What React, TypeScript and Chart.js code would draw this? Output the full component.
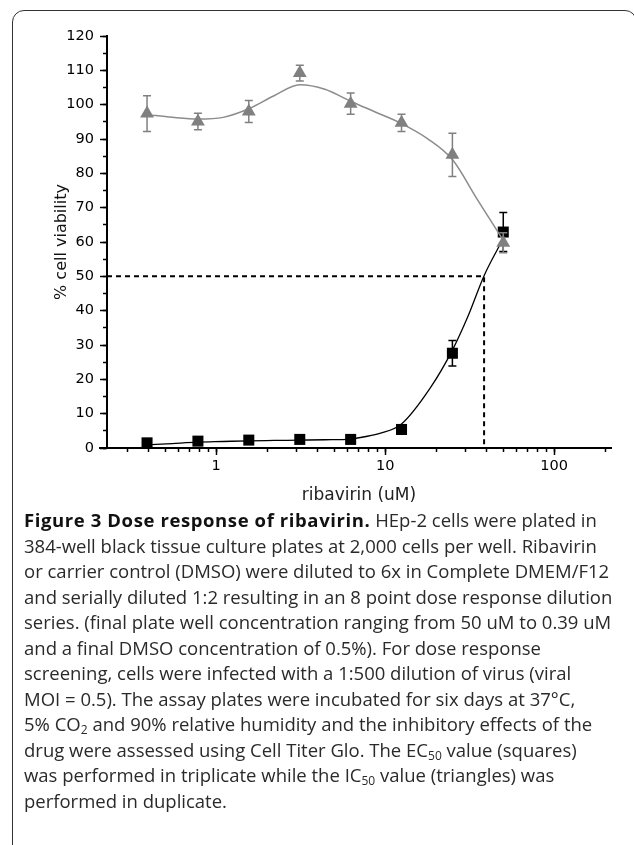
import React, { useEffect, useRef } from 'react';
import { Chart, registerables } from 'chart.js';

Chart.register(...registerables);

// ---- data ----
const concentrations = [0.39, 0.78, 1.56, 3.125, 6.25, 12.5, 25, 50];
const triangleValues = [97.4, 95.1, 98.0, 109.2, 100.3, 94.7, 85.4, 59.8];
const triangleErrors = [5.2, 2.4, 3.2, 2.3, 3.1, 2.5, 6.3, 2.9];
const squareValues = [1.5, 2.0, 2.3, 2.5, 2.5, 5.4, 27.6, 62.9];
const squareErrors = [0.3, 0.3, 0.3, 0.3, 0.3, 0.6, 3.7, 5.7];

const triangleFitX = [0.39, 0.55, 0.78, 1.1, 1.56, 2.2, 3.125, 4.4, 6.25, 8.8, 12.5, 17.7, 25, 35, 50];
const triangleFitY = [97.1, 96.3, 95.8, 96.3, 98.8, 102.6, 105.8, 104.5, 101.0, 97.8, 94.5, 90.2, 84.0, 72.5, 60.5];

const squareFitX = [0.39, 0.55, 0.78, 1.1, 1.56, 2.2, 3.125, 4.4, 6.25, 7.4, 9.4, 12.5, 18.5, 25, 31, 38.5, 50];
const squareFitY = [0.9, 1.3, 1.7, 1.9, 2.1, 2.2, 2.3, 2.4, 2.6, 3.2, 4.3, 7.0, 17.5, 28.5, 38.5, 50.2, 61.0];

const refLineX = [0.226, 38.5, 38.5];
const refLineY = [50, 50, 0];

const xMin = 0.226;
const xMax = 217;
const yMin = 0;
const yMax = 120;
const xTickValues = [0.3, 0.4, 0.5, 0.6, 0.7, 0.8, 0.9, 1, 2, 3, 4, 5, 6, 7, 8, 9, 10, 20, 30, 40, 50, 60, 70, 80, 90, 100, 200];
const xTickLabels = [1, 10, 100];
const yMinorStep = 5;
const yLabelStep = 10;

const yTitle = '% cell viability';
const xTitle = 'ribavirin (uM)';

const toPoints = (xs: number[], ys: number[]) => xs.map((x, i) => ({ x, y: ys[i] }));

const errorBarPlugin = {
  id: 'errorBars',
  beforeDatasetDraw(chart: any, args: any) {
    const ds = chart.data.datasets[args.index] as any;
    if (!ds.errors) return;
    const { ctx, scales } = chart;
    const xs = scales.x;
    const ys = scales.y;
    ctx.save();
    ctx.strokeStyle = ds.errorColor;
    ctx.lineWidth = 1.5;
    ds.data.forEach((p: any, i: number) => {
      const e = ds.errors[i];
      const px = xs.getPixelForValue(p.x);
      const top = ys.getPixelForValue(p.y + e);
      const bot = ys.getPixelForValue(p.y - e);
      const cap = 4;
      ctx.beginPath();
      ctx.moveTo(px, top);
      ctx.lineTo(px, bot);
      ctx.moveTo(px - cap, top);
      ctx.lineTo(px + cap, top);
      ctx.moveTo(px - cap, bot);
      ctx.lineTo(px + cap, bot);
      ctx.stroke();
    });
    ctx.restore();
  },
};

const axisExtendPlugin = {
  id: 'axisExtend',
  afterDraw(chart: any) {
    const { ctx, chartArea } = chart;
    ctx.save();
    ctx.strokeStyle = '#000';
    ctx.lineWidth = 2;
    ctx.beginPath();
    ctx.moveTo(chartArea.left - 8, chartArea.bottom);
    ctx.lineTo(chartArea.left, chartArea.bottom);
    ctx.stroke();
    ctx.restore();
  },
};

function DoseChart() {
  const ref = useRef<HTMLCanvasElement | null>(null);
  useEffect(() => {
    if (!ref.current) return;
    const tickFont = { family: "'DejaVu Sans', sans-serif", size: 14.5 };
    const chart = new Chart(ref.current, {
      type: 'scatter',
      data: {
        datasets: [
          {
            data: toPoints(refLineX, refLineY),
            showLine: true,
            borderColor: '#000',
            borderWidth: 2,
            borderDash: [5, 4],
            pointRadius: 0,
            tension: 0,
            order: 5,
          } as any,
          {
            data: toPoints(squareFitX, squareFitY),
            showLine: true,
            borderColor: '#000',
            borderWidth: 1.3,
            pointRadius: 0,
            cubicInterpolationMode: 'monotone',
            order: 4,
          },
          {
            data: toPoints(concentrations, squareValues),
            showLine: false,
            pointStyle: 'rect',
            pointRadius: 7.8,
            backgroundColor: '#000',
            borderColor: '#000',
            borderWidth: 0,
            errors: squareErrors,
            errorColor: '#000',
            order: 3,
          },
          {
            data: toPoints(triangleFitX, triangleFitY),
            showLine: true,
            borderColor: '#8c8c8c',
            borderWidth: 1.5,
            pointRadius: 0,
            cubicInterpolationMode: 'monotone',
            order: 2,
          },
          {
            data: toPoints(concentrations, triangleValues),
            showLine: false,
            pointStyle: 'triangle',
            pointRadius: 8,
            backgroundColor: '#808080',
            borderColor: '#808080',
            borderWidth: 0,
            errors: triangleErrors,
            errorColor: '#808080',
            order: 1,
          },
        ] as any,
      },
      options: {
        animation: false,
        responsive: false,
        maintainAspectRatio: false,
        events: [],
        layout: { padding: { left: 44, top: 36, right: 23, bottom: 0 } },
        plugins: { legend: { display: false }, tooltip: { enabled: false } },
        scales: {
          x: {
            type: 'logarithmic',
            min: xMin,
            max: xMax,
            weight: 1,
            afterBuildTicks: (scale: any) => {
              scale.ticks = xTickValues.map((v) => ({ value: v, major: false }));
            },
            afterFit: (scale: any) => {
              scale.height = 62;
            },
            ticks: {
              autoSkip: false,
              maxRotation: 0,
              minRotation: 0,
              padding: 6,
              color: '#000',
              font: tickFont,
              callback: (v: any) => (xTickLabels.includes(Number(v)) ? String(v) : ''),
            },
            grid: { drawOnChartArea: false, drawTicks: true, tickLength: 4, tickColor: '#000', tickWidth: 1.5 },
            border: { display: true, color: '#000', width: 2 },
            title: {
              display: true,
              text: xTitle,
              color: '#222',
              font: { family: "'DejaVu Sans', sans-serif", size: 17 },
              padding: { top: 0, bottom: 4 },
            },
          },
          xMajor: {
            type: 'logarithmic',
            position: 'bottom',
            min: xMin,
            max: xMax,
            weight: -1,
            afterBuildTicks: (scale: any) => {
              scale.ticks = xTickLabels.map((v) => ({ value: v, major: true }));
            },
            afterFit: (scale: any) => {
              scale.height = 0;
            },
            ticks: { display: false, autoSkip: false },
            grid: { drawOnChartArea: false, drawTicks: true, tickLength: 7, tickColor: '#000', tickWidth: 1.5 },
            border: { display: false },
          },
          y: {
            type: 'linear',
            min: yMin,
            max: yMax,
            weight: 1,
            afterFit: (scale: any) => {
              scale.width = 63;
            },
            ticks: {
              stepSize: yMinorStep,
              autoSkip: false,
              padding: 9,
              color: '#000',
              font: tickFont,
              callback: (v: any) => (Number(v) % yLabelStep === 0 ? String(v) : ''),
            },
            grid: { drawOnChartArea: false, drawTicks: true, tickLength: 4, tickColor: '#000', tickWidth: 1.5 },
            border: { display: true, color: '#000', width: 2 },
            title: {
              display: true,
              text: yTitle,
              color: '#111',
              font: { family: "'DejaVu Sans', sans-serif", size: 16 },
              padding: { top: 8, bottom: 0 },
            },
          },
          yMajor: {
            type: 'linear',
            position: 'left',
            min: yMin,
            max: yMax,
            weight: -1,
            afterFit: (scale: any) => {
              scale.width = 0;
            },
            ticks: { display: false, stepSize: yLabelStep, autoSkip: false },
            grid: { drawOnChartArea: false, drawTicks: true, tickLength: 7, tickColor: '#000', tickWidth: 1.5 },
            border: { display: false },
          },
        },
      },
      plugins: [errorBarPlugin, axisExtendPlugin],
    } as any);
    return () => chart.destroy();
  }, []);
  return <canvas ref={ref} width={634} height={510} style={{ position: 'absolute', left: 0, top: 0, width: 634, height: 510 }} />;
}

const subStyle: React.CSSProperties = { fontSize: '0.65em', verticalAlign: '-0.25em', lineHeight: 0 };

const captionLines: React.ReactNode[] = [
  <>
    <b style={{ letterSpacing: '0.6px', color: '#111' }}>Figure 3 Dose response of ribavirin.</b> HEp-2 cells were plated in
  </>,
  '384-well black tissue culture plates at 2,000 cells per well. Ribavirin',
  'or carrier control (DMSO) were diluted to 6x in Complete DMEM/F12',
  'and serially diluted 1:2 resulting in an 8 point dose response dilution',
  'series. (final plate well concentration ranging from 50 uM to 0.39 uM',
  'and a final DMSO concentration of 0.5%). For dose response',
  'screening, cells were infected with a 1:500 dilution of virus (viral',
  'MOI = 0.5). The assay plates were incubated for six days at 37°C,',
  <>
    5% CO<sub style={subStyle}>2</sub> and 90% relative humidity and the inhibitory effects of the
  </>,
  <>
    drug were assessed using Cell Titer Glo. The EC<sub style={subStyle}>50</sub> value (squares)
  </>,
  <>
    was performed in triplicate while the IC<sub style={subStyle}>50</sub> value (triangles) was
  </>,
  'performed in duplicate.',
];

export default function App() {
  return (
    <div style={{ position: 'absolute', left: 0, top: 0, width: 634, height: 845, overflow: 'hidden', background: '#fff' }}>
      <div
        style={{
          position: 'absolute',
          left: 12,
          top: 10,
          width: 625,
          height: 900,
          border: '1.5px solid #333',
          borderRadius: 12,
          boxSizing: 'border-box',
        }}
      />
      <DoseChart />
      <div
        style={{
          position: 'absolute',
          left: 24,
          top: 507,
          fontFamily: "'Open Sans', sans-serif",
          fontSize: 18.5,
          color: '#2a2a2a',
          lineHeight: '25.5px',
        }}
      >
        {captionLines.map((l, i) => (
          <div key={i} style={{ whiteSpace: 'nowrap', height: 25.5 }}>
            {l}
          </div>
        ))}
      </div>
    </div>
  );
}
